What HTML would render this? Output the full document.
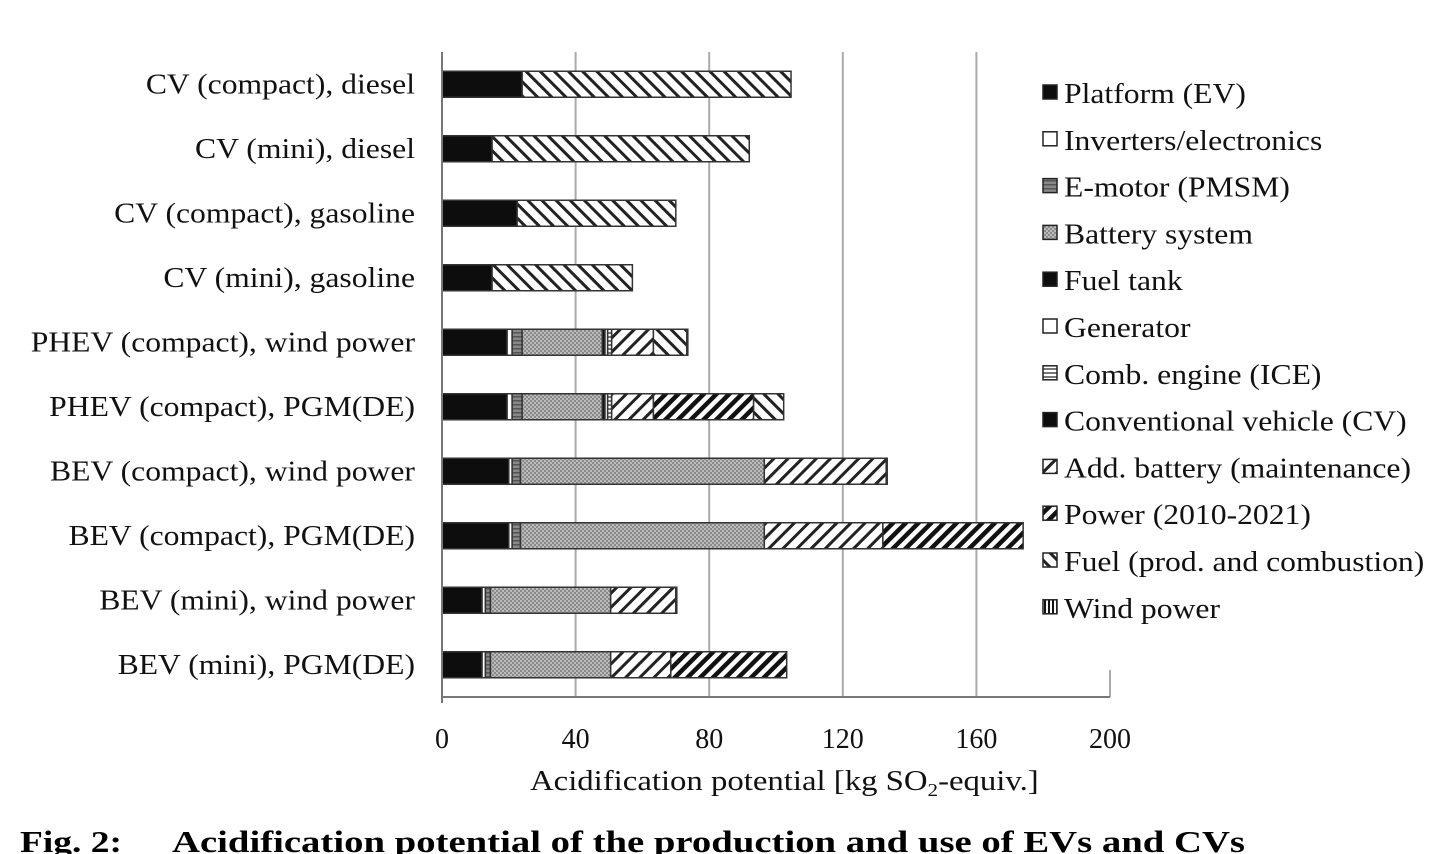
<!DOCTYPE html>
<html><head><meta charset="utf-8">
<style>
html,body{margin:0;padding:0;background:#fff;}
svg{display:block;}
text{font-family:"Liberation Serif",serif;}
</style></head>
<body>
<svg id="chart" width="1456" height="854" viewBox="0 0 1456 854">
<defs>
<pattern id="p-emotor" width="6" height="4" patternUnits="userSpaceOnUse"><rect width="6" height="4" fill="#888"/><rect width="6" height="1.5" fill="#555"/></pattern>
<pattern id="p-battery" width="4" height="4" patternUnits="userSpaceOnUse"><rect width="4" height="4" fill="#8a8a8a"/><rect width="2" height="2" fill="#bbb"/><rect x="2" y="2" width="2" height="2" fill="#bbb"/></pattern>
<pattern id="p-ice" width="6" height="4" patternUnits="userSpaceOnUse"><rect width="6" height="4" fill="#fff"/><rect width="6" height="2" fill="#777"/></pattern>
<pattern id="p-add" width="10" height="10" patternUnits="userSpaceOnUse" patternTransform="rotate(45)"><rect width="10" height="10" fill="#fff"/><rect width="3" height="10" fill="#222"/></pattern>
<pattern id="p-power" width="9" height="9" patternUnits="userSpaceOnUse" patternTransform="rotate(45)"><rect width="9" height="9" fill="#fff"/><rect width="4.5" height="9" fill="#111"/></pattern>
<pattern id="p-fuel" width="10" height="10" patternUnits="userSpaceOnUse" patternTransform="rotate(-45)"><rect width="10" height="10" fill="#fff"/><rect width="3" height="10" fill="#222"/></pattern>
<pattern id="p-wind" width="4" height="4" patternUnits="userSpaceOnUse"><rect width="4" height="4" fill="#fff"/><rect width="2" height="4" fill="#111"/></pattern>
</defs>
<g id="grid"></g>
<g id="bars"></g>
<g id="axes"></g>
<rect x="1034" y="40" width="410" height="630" fill="#fff"/>
<g id="legend"></g>
<text transform="translate(530,790) scale(1.17,1)" x="0" y="0" font-size="28" fill="#111">Acidification potential [kg SO<tspan font-size="18" dy="6">2</tspan><tspan dy="-6">-equiv.]</tspan></text>
<text x="20" y="852" font-size="31" font-weight="bold" fill="#000" textLength="102" lengthAdjust="spacingAndGlyphs">Fig. 2:</text>
<text x="172" y="852" font-size="31" font-weight="bold" fill="#000" textLength="1073" lengthAdjust="spacingAndGlyphs">Acidification potential of the production and use of EVs and CVs</text>
</svg>
<script>
const categories = ["CV (compact), diesel","CV (mini), diesel","CV (compact), gasoline","CV (mini), gasoline","PHEV (compact), wind power","PHEV (compact), PGM(DE)","BEV (compact), wind power","BEV (compact), PGM(DE)","BEV (mini), wind power","BEV (mini), PGM(DE)"];
const seriesNames = ["Platform (EV)","Inverters/electronics","E-motor (PMSM)","Battery system","Fuel tank","Generator","Comb. engine (ICE)","Conventional vehicle (CV)","Add. battery (maintenance)","Power (2010-2021)","Fuel (prod. and combustion)","Wind power"];
const platform  = [0,0,0,0,19.5,19.5,20,20,12,12];
const inverters = [0,0,0,0,1.5,1.5,1,1,1,1];
const emotor    = [0,0,0,0,3,3,2.5,2.5,1.5,1.5];
const battery   = [0,0,0,0,24,24,73,73,36,36];
const fueltank  = [0,0,0,0,0.8,0.8,0,0,0,0];
const generator = [0,0,0,0,0.8,0.8,0,0,0,0];
const ice       = [0,0,0,0,1.2,1.2,0,0,0,0];
const cv        = [24,15,22.5,15,0,0,0,0,0,0];
const addBattery= [0,0,0,0,12.5,12.5,36.5,35.5,19.5,18];
const power     = [0,0,0,0,0,30,0,42,0,34.7];
const fuel      = [80.5,77,47.5,42,10,9,0,0,0,0];
const wind      = [0,0,0,0,0.3,0,0.3,0,0.3,0];
const xTicks = [0,40,80,120,160,200];

const series=[platform,inverters,emotor,battery,fueltank,generator,ice,cv,addBattery,power,fuel,wind];
const fills=["#0d0d0d","#fff","url(#p-emotor)","url(#p-battery)","#0d0d0d","#fff","url(#p-ice)","#0d0d0d","url(#p-add)","url(#p-power)","url(#p-fuel)","url(#p-wind)"];
const keys=["platform","inverters","emotor","battery","fuel-tank","generator","ice","cv","add-battery","power","fuel","wind"];
const NS="http://www.w3.org/2000/svg";
const X0=442,X1=1110,YT=52,YB=697;
const xs=v=>X0+(v/200)*(X1-X0);
const rowH=(YB-YT)/categories.length;
const yc=i=>YT+rowH*(i+0.5);
const BH=26;
const STRETCH=1.13;
function mk(tag,at,parent){const e=document.createElementNS(NS,tag);for(const k in at)e.setAttribute(k,at[k]);parent.appendChild(e);return e;}
function stretch(t,f){const w=t.getComputedTextLength();t.setAttribute('textLength',w*f);t.setAttribute('lengthAdjust','spacingAndGlyphs');}
const grid=document.getElementById('grid'),bars=document.getElementById('bars'),axes=document.getElementById('axes'),leg=document.getElementById('legend');
xTicks.forEach(t=>{
  if(t>0){const l=mk('line',{x1:xs(t),x2:xs(t),y1:YT,y2:YB,stroke:'#aaa','stroke-width':2},grid);
  
  }
  const tx=mk('text',{x:xs(t),y:748,'text-anchor':'middle','font-size':28,fill:'#111'},axes);tx.textContent=t;
  
  
});
categories.forEach((c,i)=>{
  let acc=0;
  series.forEach((s,j)=>{
    const v=s[i]; if(v<=0)return;
    const r=mk('rect',{x:xs(acc),y:yc(i)-BH/2,width:xs(acc+v)-xs(acc),height:BH,fill:fills[j],stroke:'#333','stroke-width':1.5},bars);
    
    
    acc+=v;
  });
  const t=mk('text',{x:415,y:yc(i)+9,'text-anchor':'end','font-size':28,fill:'#111'},axes);t.textContent=c;
  
  
  stretch(t,STRETCH);
});
const ya=mk('line',{x1:X0,x2:X0,y1:YT,y2:YB+6,stroke:'#777','stroke-width':2},axes);


const xa=mk('line',{x1:X0,x2:X1,y1:YB,y2:YB,stroke:'#777','stroke-width':2},axes);


seriesNames.forEach((n,j)=>{
  const y=93+j*46.8;
  const g=mk('g',{},leg);
  
  
  mk('rect',{x:1043,y:y-8,width:14,height:14,fill:fills[j],stroke:'#222','stroke-width':1.5},g);
  const t=mk('text',{x:1064,y:y+10,'font-size':28,fill:'#111'},g);t.textContent=n;
  stretch(t,STRETCH);
});
</script>
</body></html>
